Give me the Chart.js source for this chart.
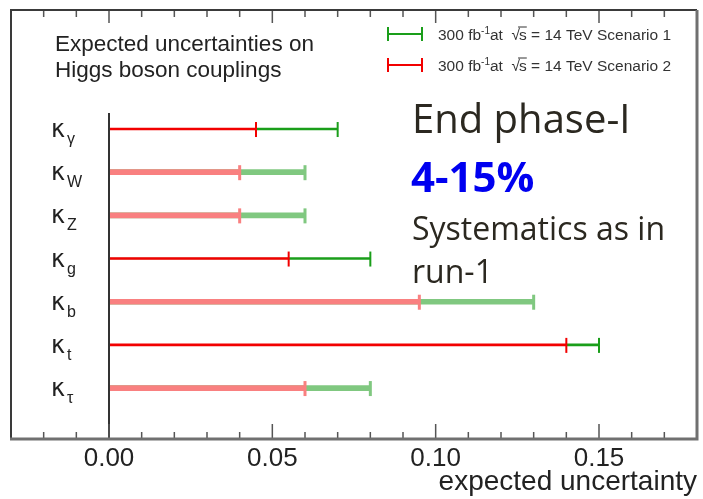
<!DOCTYPE html>
<html>
<head>
<meta charset="utf-8">
<script src="https://cdn.jsdelivr.net/npm/chart.js@4.4.1/dist/chart.umd.min.js"></script>
<style>
html, body { margin: 0; padding: 0; background: #fff; }
</style>
</head>
<body>
<canvas id="couplingChart" width="703" height="499"></canvas>
<script>
// kappa subscripts, top to bottom
var categories = ['γ', 'W', 'Z', 'g', 'b', 't', 'τ'];
// Scenario 1 (green) and Scenario 2 (red) expected uncertainties
var scenario1 = [0.07, 0.06, 0.06, 0.08, 0.13, 0.15, 0.08];
var scenario2 = [0.045, 0.04, 0.04, 0.055, 0.095, 0.14, 0.06];
var tickValues = [0.00, 0.05, 0.10, 0.15];
var legendNames = ['Scenario 1', 'Scenario 2'];

// rows that look blurred / thicker in the original
var fadedRows = [1, 2, 4, 6];
function isFaded(i) { return fadedRows.indexOf(i) >= 0; }

var redThin = '#f20000', redFaded = '#f98080';
var greenThin = '#1a9e1a', greenFaded = '#80c880';

function barColor(d, i) {
    if (d === 0) return isFaded(i) ? redFaded : redThin;
    return isFaded(i) ? greenFaded : greenThin;
}

function rowData(values) {
    return values.map(function (v, i) { return { y: i, x: [0, v] }; });
}

function thinBorder(ctx) {
    return isFaded(ctx.dataIndex) ? 0 : { top: 1.5, bottom: 1.5, left: 0, right: 0 };
}

var decorations = {
    id: 'decorations',
    afterDatasetsDraw: function (chart) {
        var ctx = chart.ctx;
        // error bar end caps
        chart.data.datasets.forEach(function (ds, d) {
            chart.getDatasetMeta(d).data.forEach(function (bar, i) {
                var w = isFaded(i) ? 3 : 2;
                ctx.fillStyle = barColor(d, i);
                ctx.fillRect(bar.x - w / 2, bar.y - 7, w, 15);
            });
        });
    },
    afterDraw: function (chart) {
        var ctx = chart.ctx, x = chart.scales.x, y = chart.scales.y, a = chart.chartArea;
        ctx.save();

        // zero line
        var x0 = x.getPixelForValue(0);
        ctx.strokeStyle = '#333';
        ctx.lineWidth = 2;
        ctx.beginPath();
        ctx.moveTo(x0, y.getPixelForValue(-0.37));
        ctx.lineTo(x0, a.bottom);
        ctx.stroke();

        // ticks on top and bottom, ROOT style (inside the frame)
        ctx.strokeStyle = '#555';
        ctx.lineWidth = 1.5;
        for (var k = Math.round(x.min * 100); k <= Math.round(x.max * 100); k++) {
            var px = x.getPixelForValue(k / 100);
            var major = k % 5 === 0;
            ctx.beginPath();
            ctx.moveTo(px, a.bottom);
            ctx.lineTo(px, a.bottom - (major ? 15 : 7));
            ctx.moveTo(px, a.top);
            ctx.lineTo(px, a.top + (major ? 13 : 7));
            ctx.stroke();
        }

        // frame
        ctx.strokeStyle = '#3a3a3a';
        ctx.lineWidth = 2;
        ctx.beginPath();
        ctx.moveTo(a.left, a.bottom);
        ctx.lineTo(a.left, a.top);
        ctx.lineTo(a.right, a.top);
        ctx.stroke();
        ctx.strokeStyle = '#707070';
        ctx.lineWidth = 3;
        ctx.beginPath();
        ctx.moveTo(a.right, a.top);
        ctx.lineTo(a.right, a.bottom);
        ctx.lineTo(a.left - 1, a.bottom);
        ctx.stroke();

        // kappa labels
        ctx.fillStyle = '#222';
        ctx.textAlign = 'left';
        ctx.textBaseline = 'alphabetic';
        categories.forEach(function (c, i) {
            var py = y.getPixelForValue(i);
            ctx.font = '24px "DejaVu Sans"';
            ctx.fillText('κ', 51, py + 8);
            ctx.font = '16px "Liberation Sans"';
            ctx.fillText(c, 67, py + 15);
        });

        // plot title
        ctx.font = '22.5px "Liberation Sans"';
        ctx.fillText('Expected uncertainties on', 55, 51);
        ctx.fillText('Higgs boson couplings', 55, 77);

        // legend
        var rows = [{ y: 34, color: greenThin, name: legendNames[0] },
                    { y: 65, color: redThin, name: legendNames[1] }];
        rows.forEach(function (r) {
            ctx.fillStyle = r.color;
            ctx.fillRect(388, r.y - 1, 34, 2);
            ctx.fillRect(387, r.y - 7, 2, 14);
            ctx.fillRect(421, r.y - 7, 2, 14);
            ctx.fillStyle = '#333';
            var tx = 438, by = r.y + 6;
            ctx.font = '15.5px "Liberation Sans"';
            ctx.fillText('300 fb', tx, by);
            tx += ctx.measureText('300 fb').width;
            ctx.font = '10px "Liberation Sans"';
            ctx.fillText('-1', tx, by - 6);
            tx += ctx.measureText('-1').width;
            ctx.font = '15.5px "Liberation Sans"';
            ctx.fillText('at  ', tx, by);
            tx += ctx.measureText('at  ').width;
            ctx.fillText('√', tx, by);
            tx += ctx.measureText('√').width - 1;
            ctx.fillText('s', tx, by);
            var sw = ctx.measureText('s').width;
            ctx.strokeStyle = '#333';
            ctx.lineWidth = 1;
            ctx.beginPath();
            ctx.moveTo(tx - 1, by - 13);
            ctx.lineTo(tx + sw, by - 13);
            ctx.stroke();
            tx += sw;
            ctx.fillText(' = 14 TeV ' + r.name, tx, by);
        });

        // annotations
        ctx.fillStyle = '#2b2820';
        ctx.font = '40px "Open Sans"';
        ctx.fillText('End phase-I', 412, 133);
        ctx.fillStyle = '#0000f0';
        ctx.font = 'bold 42px "Open Sans"';
        ctx.fillText('4-15%', 411, 192);
        ctx.fillStyle = '#2b2820';
        ctx.font = '32px "Open Sans"';
        ctx.fillText('Systematics as in', 412, 240);
        ctx.fillText('run-1', 412, 283);

        ctx.restore();
    }
};

var config = {
    type: 'bar',
    data: {
        datasets: [{
            label: legendNames[1],
            data: rowData(scenario2),
            grouped: false,
            barThickness: 5,
            borderSkipped: false,
            borderWidth: thinBorder,
            borderColor: '#ffffff',
            backgroundColor: function (ctx) { return barColor(0, ctx.dataIndex); }
        }, {
            label: legendNames[0],
            data: rowData(scenario1),
            grouped: false,
            barThickness: 5,
            borderSkipped: false,
            borderWidth: thinBorder,
            borderColor: '#ffffff',
            backgroundColor: function (ctx) { return barColor(1, ctx.dataIndex); }
        }]
    },
    options: {
        responsive: false,
        animation: false,
        indexAxis: 'y',
        layout: { padding: { left: 11, top: 10, right: 6, bottom: 0 } },
        plugins: { legend: { display: false }, tooltip: { enabled: false } },
        scales: {
            x: {
                type: 'linear',
                min: -0.03,
                max: 0.18,
                afterBuildTicks: function (s) { s.ticks = tickValues.map(function (v) { return { value: v }; }); },
                afterFit: function (s) { s.height = 60; },
                grid: { display: false, drawTicks: false },
                border: { display: false },
                ticks: {
                    padding: 4,
                    autoSkip: false,
                    maxRotation: 0,
                    color: '#222',
                    font: { family: 'Liberation Sans', size: 26 },
                    callback: function (v) { return Number(v).toFixed(2); }
                },
                title: {
                    display: true,
                    text: 'expected uncertainty',
                    align: 'end',
                    color: '#222',
                    font: { family: 'Liberation Sans', size: 28 },
                    padding: { top: 0, bottom: 0 }
                }
            },
            y: {
                type: 'linear',
                reverse: true,
                offset: false,
                bounds: 'data',
                min: -2.757,
                max: 7.18,
                display: false
            }
        }
    },
    plugins: [decorations]
};

new Chart(document.getElementById('couplingChart'), config);
</script>
</body>
</html>
